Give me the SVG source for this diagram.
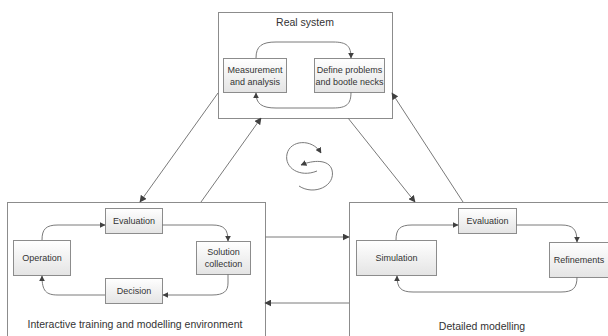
<svg xmlns="http://www.w3.org/2000/svg" width="608" height="336" viewBox="0 0 608 336">
<defs>
<linearGradient id="g" x1="0" y1="0" x2="0" y2="1">
<stop offset="0" stop-color="#ffffff"/>
<stop offset="1" stop-color="#e4e4e4"/>
</linearGradient>
<marker id="ah" viewBox="0 0 10 10" refX="9" refY="5" markerWidth="7" markerHeight="7" markerUnits="userSpaceOnUse" orient="auto">
<path d="M0 0 L10 5 L0 10 z" fill="#404040"/>
</marker>
<marker id="ahs" viewBox="0 0 10 10" refX="9" refY="5" markerWidth="6" markerHeight="6" markerUnits="userSpaceOnUse" orient="auto">
<path d="M0 0 L10 5 L0 10 z" fill="#404040"/>
</marker>
</defs>
<style>
.big{fill:#ffffff;stroke:#8c8c8c;stroke-width:1}
.box{fill:url(#g);stroke:#8c8c8c;stroke-width:1}
.t{font-family:"Liberation Sans",Arial,sans-serif;font-size:9px;fill:#333333;text-anchor:middle}
.tt{font-family:"Liberation Sans",Arial,sans-serif;font-size:10.5px;fill:#333333;text-anchor:middle}
.c{fill:none;stroke:#7a7a7a;stroke-width:1;marker-end:url(#ah)}
.ci{fill:none;stroke:#7a7a7a;stroke-width:1;marker-end:url(#ahs)}
</style>
<rect width="608" height="336" fill="#ffffff"/>

<g id="real-system">
<rect class="big" x="218.5" y="12.5" width="174" height="106"/>
<text class="tt" x="305" y="26">Real system</text>
</g>
<g id="measurement">
<rect class="box" x="223.5" y="58.5" width="63" height="34"/>
<text class="t" x="255" y="73">Measurement</text>
<text class="t" x="255" y="85">and analysis</text>
</g>
<g id="define-problems">
<rect class="box" x="314.5" y="58.5" width="70" height="34"/>
<text class="t" x="349.5" y="73">Define problems</text>
<text class="t" x="349.5" y="85">and bootle necks</text>
</g>

<g id="interactive">
<rect class="big" x="7.5" y="202.5" width="258" height="150"/>
<text class="tt" x="135" y="328">Interactive training and modelling environment</text>
</g>
<g id="evaluation-left">
<rect class="box" x="105.5" y="208.5" width="57" height="25"/>
<text class="t" x="134" y="224">Evaluation</text>
</g>
<g id="operation">
<rect class="box" x="13.5" y="240.5" width="57" height="35"/>
<text class="t" x="42" y="261">Operation</text>
</g>
<g id="solution-collection">
<rect class="box" x="196.5" y="241.5" width="54" height="33"/>
<text class="t" x="223.5" y="255">Solution</text>
<text class="t" x="223.5" y="267">collection</text>
</g>
<g id="decision">
<rect class="box" x="105.5" y="278.5" width="57" height="25"/>
<text class="t" x="134" y="294">Decision</text>
</g>

<g id="detailed">
<rect class="big" x="349.5" y="202.5" width="270" height="150"/>
<text class="tt" x="482" y="330">Detailed modelling</text>
</g>
<g id="evaluation-right">
<rect class="box" x="458.5" y="208.5" width="58" height="25"/>
<text class="t" x="487.5" y="224">Evaluation</text>
</g>
<g id="simulation">
<rect class="box" x="356.5" y="240.5" width="80" height="35"/>
<text class="t" x="396.5" y="261">Simulation</text>
</g>
<g id="refinements">
<rect class="box" x="549.5" y="242.5" width="60" height="35"/>
<text class="t" x="579" y="263">Refinements</text>
</g>

<g id="connectors">
<path class="ci" d="M256 58 C256 46 262 42 276 42 H333 C347 42 351 46 351 58"/>
<path class="ci" d="M351 92 C351 104 347 108 333 108 H276 C262 108 256 104 256 93"/>

<path class="ci" d="M42 240 C42 229 46 225 58 225 H105"/>
<path class="ci" d="M162 225 H212 C224 225 228 229 228 241"/>
<path class="ci" d="M228 274 V283 C228 291 224 295 212 295 H163"/>
<path class="ci" d="M105 295 H58 C46 295 42 291 42 276"/>

<path class="ci" d="M396 240 C396 229 400 225 412 225 H458"/>
<path class="ci" d="M516 225 H561 C573 225 577 229 577 242"/>
<path class="ci" d="M577 277 C577 288 573 292 561 292 H413 C401 292 397 288 397 276"/>

<path class="c" d="M218 93 L140 202"/>
<path class="c" d="M201 202 L261 118"/>
<path class="c" d="M348 118 L415 202"/>
<path class="c" d="M463 202 L392 93"/>
<path class="c" d="M265 237 L349 237"/>
<path class="c" d="M349 303 L265 303"/>

<path class="ci" d="M317 171 C300 178 284 168 287 154 C290 140 312 138 321 153"/>
<path class="ci" d="M299 186 C314 196 336 186 332 170 C329 159 313 160 301 165"/>
</g>
</svg>
